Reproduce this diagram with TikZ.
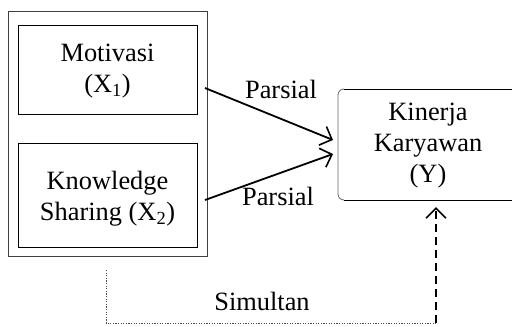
\documentclass[tikz,border=0pt]{standalone}
\usepackage{fontspec}
\setmainfont{Liberation Serif}
\usetikzlibrary{arrows.meta,calc}
\begin{document}
\begin{tikzpicture}[x=1pt,y=-1pt,
  every node/.style={font=\fontsize{26.4}{31}\selectfont, align=center, inner sep=0pt},
  box/.style={draw=black, line width=0.9pt, rectangle},
  arr/.style={line width=1.8pt, -{Straight Barb[length=10pt,width=20pt,line width=1.6pt]}},
  simarr/.style={line width=1.8pt, dash pattern=on 8pt off 5pt, -{Straight Barb[length=10pt,width=20pt,line width=1.6pt]}},
  dotline/.style={draw=black!70, line width=0.8pt, dash pattern=on 1.2pt off 1.4pt}]
\path[use as bounding box] (0,0) rectangle (512,327);
% outer group box
\node[box, draw=black!75, minimum width=199pt, minimum height=245pt] (outer) at (107.5,133.5) {};
\node[box, minimum width=179pt, minimum height=89pt] (m) at (107.5,69.5) {};
\node (mt) at (107.5,71) {Motivasi\\(X\textsubscript{1})};
\node[box, minimum width=179pt, minimum height=104pt] (k) at (107.5,195) {};
\node (kt) at (107.5,199) {Knowledge\\Sharing (X\textsubscript{2})};
% dependent variable box (open on the right: it runs off the picture)
\coordinate (Y) at (338,144.5);
\coordinate (Ytr) at (512,89);
\coordinate (Ybr) at (512,200);
\draw[line width=0.9pt] (Ytr) -- (344,89);
\draw[line width=0.9pt] (344,200) -- (Ybr);
\draw[line width=0.8pt, draw=black!60] (344,89) to[out=180,in=90] (338,95) -- (338,194) to[out=-90,in=180] (344,200);
\node (yt) at (428,146) {Kinerja\\Karyawan\\(Y)};
% partial arrows
\coordinate (s1) at (205,88);
\coordinate (s2) at (205,200);
\draw[arr] (s1) -- ($(Y)+(-5pt,4.5pt)$);
\draw[arr] (s2) -- ($(Y)+(-5pt,-9.5pt)$);
\node (p1) at (281,89.5) {Parsial};
\node (p2) at (278,196.5) {Parsial};
% simultaneous path
\coordinate (d0) at (106,270);
\coordinate (d1) at (106,323);
\coordinate (d2) at (436,323);
\draw[dotline] (d0) -- (d1) -- (d2);
\draw[simarr, shorten >=7pt] (d2) -- (d2 |- Ybr);
\node (sim) at (262,301) {Simultan};
\end{tikzpicture}
\end{document}
